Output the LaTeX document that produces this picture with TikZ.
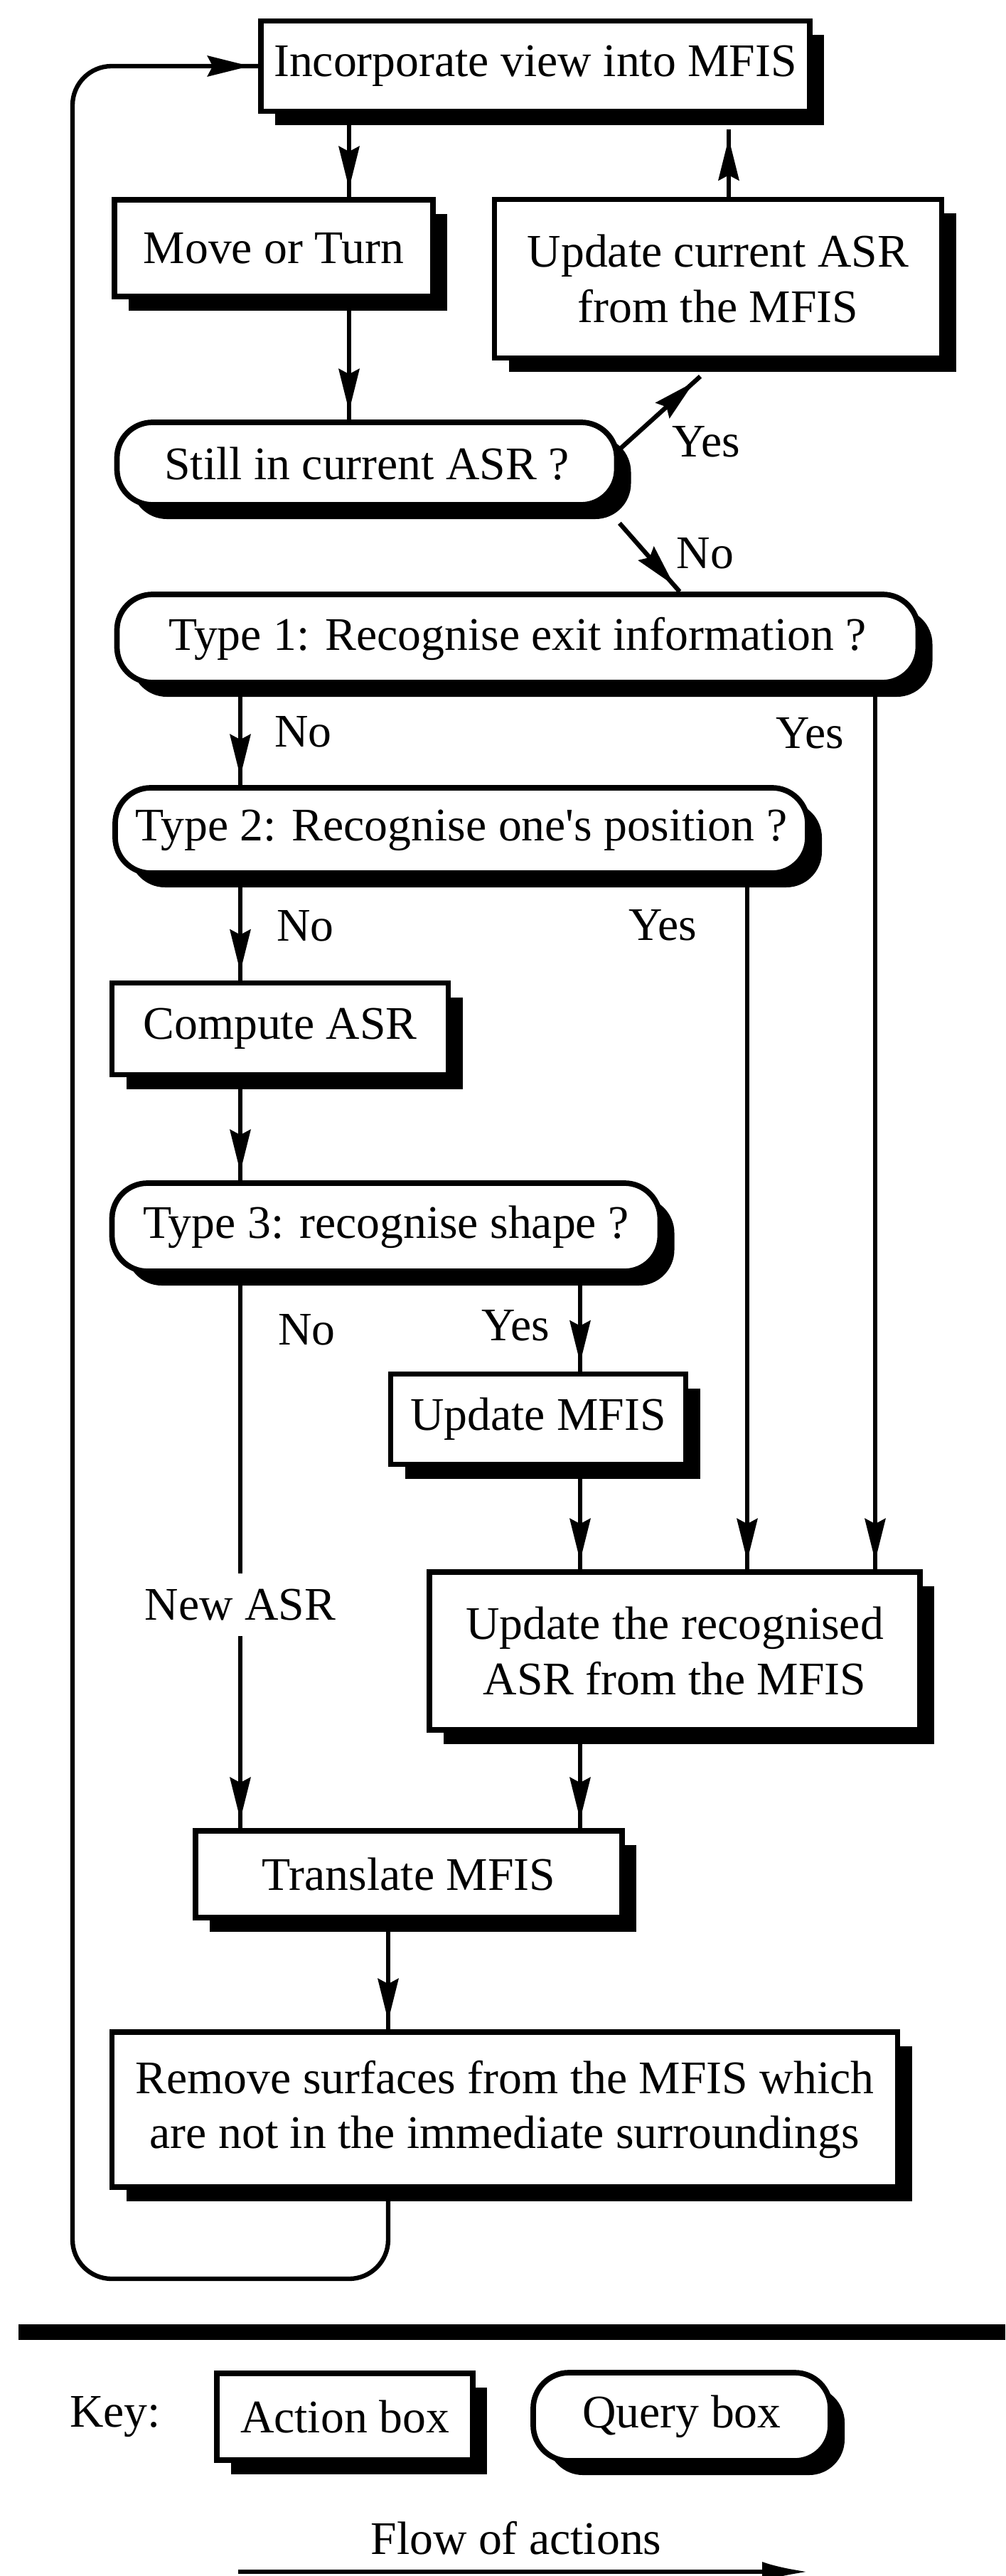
\documentclass[tikz,border=0pt]{standalone}
\usepackage{fontspec}
\setmainfont{Liberation Serif}
\usetikzlibrary{arrows.meta,positioning,calc,shadows,decorations.markings}

\begin{document}
\begin{tikzpicture}[node distance=2.7cm, font=\fontsize{18.7}{22}\selectfont]
    \tikzstyle{action} = [rectangle, draw, fill=white, line width=2.2pt, align=center, drop shadow={shadow xshift=0.2cm, shadow yshift=-0.2cm, fill=black, opacity=1}]
    \tikzstyle{query} = [rectangle, rounded corners=0.5cm, draw, fill=white, line width=2.2pt, align=center, drop shadow={shadow xshift=0.2cm, shadow yshift=-0.2cm, fill=black, opacity=1}]
    \tikzstyle{flow} = [draw, line width=1.8pt, postaction={decorate}, decoration={markings, mark=at position -0.12cm with {\fill[sharp corners] (0,0) -- (-0.6cm,0.15cm) -- (-0.52cm,0) -- (-0.6cm,-0.15cm) -- cycle;}}]
    \tikzstyle{lbl} = [inner sep=0pt]

    \useasboundingbox (0,0) rectangle (14.14,-36.23);

    % Kanaly
    \coordinate (chanA) at (4.91,0);
    \coordinate (chanB) at (3.38,0);
    \coordinate (chanC) at (8.16,0);
    \coordinate (chanD) at (10.51,0);
    \coordinate (chanE) at (12.31,0);
    \coordinate (chanF) at (5.46,0);
    \coordinate (chanU) at (10.25,0);
    \coordinate (loopcorner) at (1.02,-32.05);

    % Boxes
    \node[action, minimum width=7.72cm, minimum height=1.27cm] (incorp) at (7.53,-0.93) {Incorporate view into MFIS};
    \node[action, minimum width=4.48cm, minimum height=1.36cm] (move) [below of=incorp, xshift=-3.68cm, yshift=0.14cm] {Move or Turn};
    \node[action, minimum width=6.29cm, minimum height=2.23cm] (updcur) [right of=move, xshift=3.55cm, yshift=-0.43cm] {Update current ASR\\from the MFIS};
    \node[query, minimum width=7.03cm, minimum height=1.16cm] (still) [below of=move, xshift=1.31cm, yshift=-0.33cm] {Still in current ASR ?};
    \node[query, minimum width=11.27cm, minimum height=1.24cm] (type1) [below of=still, xshift=2.12cm, yshift=0.24cm] {Type 1: Recognise exit information ?};
    \node[query, minimum width=9.74cm, minimum height=1.20cm] (type2) [below of=type1, xshift=-0.79cm] {Type 2: Recognise one\textquotesingle s position ?};
    \node[action, minimum width=4.73cm, minimum height=1.29cm] (compute) [below of=type2, xshift=-2.55cm, yshift=-0.09cm] {Compute ASR};
    \node[query, minimum width=7.71cm, minimum height=1.24cm] (type3) [below of=compute, xshift=1.49cm, yshift=-0.09cm] {Type 3: recognise shape ?};
    \node[action, minimum width=4.15cm, minimum height=1.27cm] (updmfis) [below of=type3, xshift=2.14cm] {Update MFIS};
    \node[action, minimum width=6.90cm, minimum height=2.22cm] (updrec) [below of=updmfis, xshift=1.92cm, yshift=-0.56cm] {Update the recognised\\ASR from the MFIS};
    \node[action, minimum width=6.00cm, minimum height=1.22cm] (translate) [below of=updrec, xshift=-3.74cm, yshift=-0.44cm] {Translate MFIS};
    \node[action, minimum width=11.05cm, minimum height=2.18cm] (remove) [below of=translate, xshift=1.35cm, yshift=-0.61cm] {Remove surfaces from the MFIS which\\are not in the immediate surroundings};

    % Flow
    \draw[flow] (incorp.south -| chanA) -- (move.north -| chanA);
    \draw[flow] (move.south -| chanA) -- (still.north -| chanA);
    \draw[flow] (updcur.north -| chanU) -- ($(incorp.south -| chanU)+(0,-0.22)$);
    \draw[flow] ($(still.east)+(0,0.2)$) -- node[lbl, right=0.6cm, pos=0.1] {Yes} ($(updcur.south)+(-0.25,-0.22)$);
    \draw[flow] ($(still.south east)+(0,-0.22)$) -- node[lbl, right=0.4cm, pos=0.44] {No} ($(type1.north)+(2.28,0)$);
    \draw[flow] (type1.south -| chanB) -- node[lbl, right=0.45cm, pos=0.47] {No} (type2.north -| chanB);
    \draw[flow] (type1.south -| chanE) -- node[lbl, left=0.41cm, pos=0.054] {Yes} (updrec.north -| chanE);
    \draw[flow] (type2.south -| chanB) -- node[lbl, right=0.48cm, pos=0.48] {No} (compute.north -| chanB);
    \draw[flow] (type2.south -| chanD) -- node[lbl, left=0.68cm, pos=0.071] {Yes} (updrec.north -| chanD);
    \draw[flow] (compute.south -| chanB) -- (type3.north -| chanB);
    \draw[flow] (type3.south -| chanB) -- node[lbl, right=0.5cm, pos=0.10] {No} node[lbl, fill=white, inner ysep=0.22cm, inner xsep=0.05cm, pos=0.597] {New ASR} (translate.north -| chanB);
    \draw[flow] (type3.south -| chanC) -- node[lbl, left=0.4cm, pos=0.53] {Yes} (updmfis.north -| chanC);
    \draw[flow] (updmfis.south -| chanC) -- (updrec.north -| chanC);
    \draw[flow] (updrec.south -| chanC) -- (translate.north -| chanC);
    \draw[flow] (translate.south -| chanF) -- (remove.north -| chanF);
    \draw[flow, rounded corners=0.55cm] (remove.south -| chanF) |- (loopcorner) |- (incorp.west);

    % Key
    \draw[line width=0.22cm] (0.26,-32.80) -- (14.14,-32.80);
    \node[action, minimum width=3.60cm, minimum height=1.22cm] (keyact) at (4.85,-33.99) {Action box};
    \node[query, minimum width=4.18cm, minimum height=1.24cm] (keyqry) [right of=keyact, xshift=2.04cm] {Query box};
    \node[lbl] (keytxt) [left of=keyact, xshift=-0.53cm] {Key:};
    \node[lbl] (flowtxt) at (7.26,-35.70) {Flow of actions};
    \coordinate (flowA) at (3.35,-36.17);
    \coordinate (flowB) at (11.37,-36.17);
    \draw[-{Latex[length=0.65cm,width=0.28cm]}, line width=1.8pt] (flowA) -- (flowB);
\end{tikzpicture}
\end{document}
